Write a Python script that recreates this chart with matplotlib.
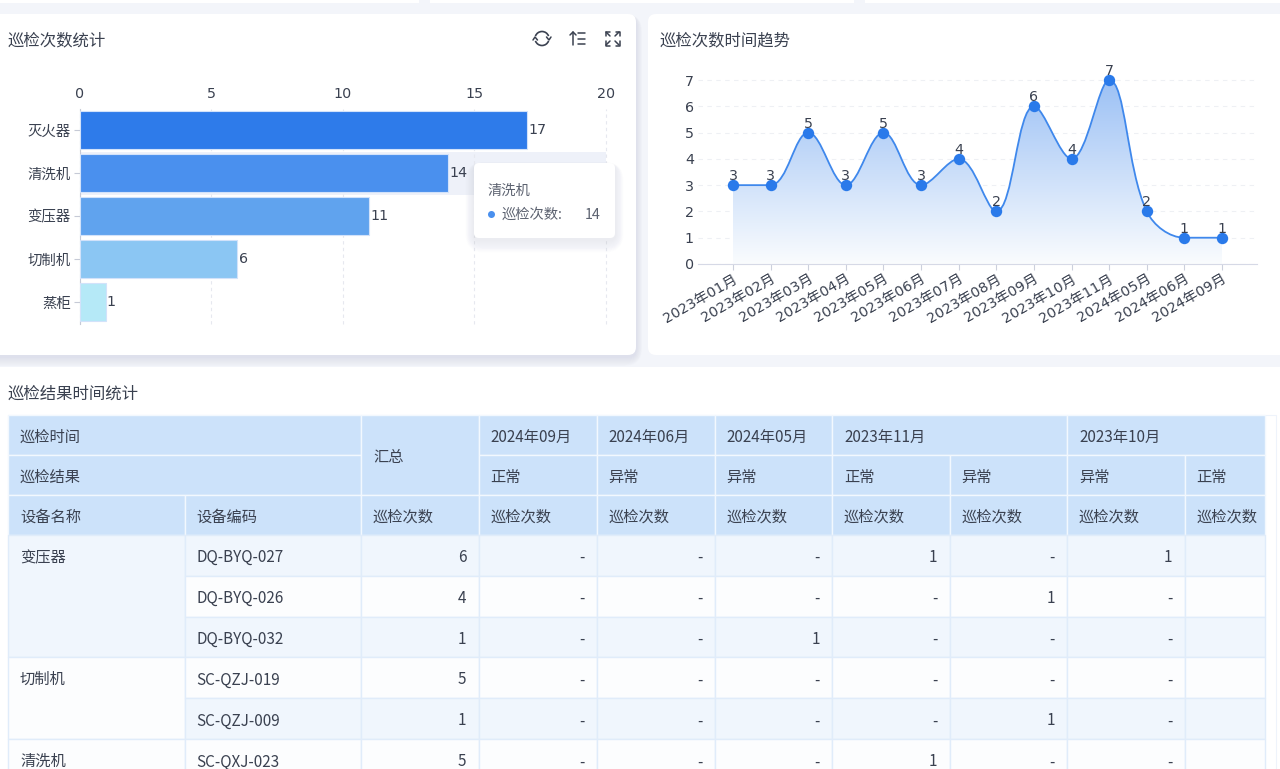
import numpy as np
import matplotlib
matplotlib.use("Agg")
import matplotlib.pyplot as plt
from matplotlib.patches import FancyBboxPatch, Rectangle, PathPatch, Arc, Circle
from matplotlib.path import Path
from matplotlib.colors import LinearSegmentedColormap

plt.rcParams['font.family'] = ['DejaVu Sans', 'Noto Sans CJK SC']
CJK = ['Noto Sans CJK SC', 'DejaVu Sans']

# Device inspection counts
devices = ['灭火器', '清洗机', '变压器', '切制机', '蒸柜']
device_counts = [17, 14, 11, 6, 1]
bar_colors = ['#2e7bea', '#4a90ee', '#60a3ee', '#8bc6f3', '#b5e9f7']
count_ticks = [0, 5, 10, 15, 20]

# Monthly inspection trend
months = ['2023年01月', '2023年02月', '2023年03月', '2023年04月', '2023年05月',
          '2023年06月', '2023年07月', '2023年08月', '2023年09月', '2023年10月',
          '2023年11月', '2024年05月', '2024年06月', '2024年09月']
month_counts = [3, 3, 5, 3, 5, 3, 4, 2, 6, 4, 7, 2, 1, 1]

# Pivot table contents
periods = [('2024年09月', 1), ('2024年06月', 1), ('2024年05月', 1), ('2023年11月', 2), ('2023年10月', 2)]
results = ['正常', '异常', '异常', '正常', '异常', '异常', '正常']
groups = [('变压器', 3), ('切制机', 2), ('清洗机', 1)]
codes = ['DQ-BYQ-027', 'DQ-BYQ-026', 'DQ-BYQ-032', 'SC-QZJ-019', 'SC-QZJ-009', 'SC-QXJ-023']
totals = [6, 4, 1, 5, 1, 5]
cells = [['-', '-', '-', '1', '-', '1', ''],
         ['-', '-', '-', '-', '1', '-', ''],
         ['-', '-', '1', '-', '-', '-', ''],
         ['-', '-', '-', '-', '-', '-', ''],
         ['-', '-', '-', '-', '1', '-', ''],
         ['-', '-', '-', '1', '-', '-', '']]

TEXT = '#3a4150'
BG = '#f3f5fa'
W, H = 1280, 769

fig = plt.figure(figsize=(12.8, 7.69), dpi=100, facecolor=BG)
canvas = fig.add_axes([0, 0, 1, 1], zorder=0)
canvas.set_xlim(0, W)
canvas.set_ylim(H, 0)
canvas.axis('off')


def card(ax, x0, y0, x1, y1, radius=8, color='white', shadow=False, z=1, shade=0.05, spread=10):
    if shadow:
        for i in range(spread, 0, -1):
            ax.add_patch(FancyBboxPatch((x0 - i * 0.6, y0 + 2 - i * 0.2), x1 - x0 + i * 1.2, y1 - y0 + i * 1.1,
                                        boxstyle=f'round,pad=0,rounding_size={radius + i}',
                                        fc='#c9cce0', ec='none', alpha=shade, zorder=z))
    ax.add_patch(FancyBboxPatch((x0, y0), x1 - x0, y1 - y0, boxstyle=f'round,pad=0,rounding_size={radius}',
                                fc=color, ec='none', zorder=z + 0.1))


# Page background pieces and dashboard cards
for x0, x1 in [(-5, 419), (430, 854), (865, 1285)]:
    canvas.add_patch(Rectangle((x0, -5), x1 - x0, 8, fc='white', ec='none', zorder=1))
card(canvas, -12, 14, 636, 355, shadow=True)
card(canvas, 648, 14, 1292, 355)
canvas.add_patch(Rectangle((0, 367), W, H - 367, fc='white', ec='none', zorder=1))

for x, y, t in [(8, 40.5, '巡检次数统计'), (660, 40.5, '巡检次数时间趋势'), (8, 394, '巡检结果时间统计')]:
    canvas.text(x, y, t, fontsize=11.8, color=TEXT, va='center', ha='left', zorder=3, family=CJK)

# Toolbar icons: refresh, sort, fullscreen
icon = dict(color='#3a4150', lw=1.1, zorder=3, solid_capstyle='round')
canvas.add_patch(Arc((542, 38.5), 14, 14, theta1=200, theta2=340, ec='#3a4150', lw=1.2, zorder=3))
canvas.add_patch(Arc((542, 38.5), 14, 14, theta1=20, theta2=160, ec='#3a4150', lw=1.2, zorder=3))
canvas.plot([546.5, 549, 551], [37, 40, 37], **icon)
canvas.plot([533, 535, 537.5], [40, 37, 40], **icon)
canvas.plot([573, 573], [32, 45], **icon)
canvas.plot([570, 573, 576], [35, 32, 35], **icon)
for yy, x1 in [(33, 585), (38.5, 585), (44, 585)]:
    canvas.plot([577.5, x1], [yy, yy], **icon)
for sx, sy in [(1, 1), (-1, 1), (1, -1), (-1, -1)]:
    cx, cy = 612.5, 38.5
    canvas.plot([cx + sx * 7, cx + sx * 7, cx + sx * 3], [cy + sy * 2.5, cy + sy * 7, cy + sy * 7], **icon)
    canvas.plot([cx + sx * 6.5, cx + sx * 2.5], [cy + sy * 6.5, cy + sy * 2.5], **icon)

# Horizontal bar chart
bar_ax = fig.add_axes([79.5 / W, 1 - 323.5 / H, (606 - 79.5) / W, (323.5 - 108.5) / H], zorder=2)
bar_ax.patch.set_alpha(0)
bar_ax.set_xlim(0, 20)
bar_ax.set_ylim(len(devices) - 0.5, -0.5)
bar_ax.axhspan(0.5, 1.5, xmin=0, xmax=1, fc='#eef1f9', ec='none', zorder=0)
bar_ax.barh(range(len(devices)), device_counts, height=0.9, color=bar_colors,
            edgecolor='#d2e2fa', linewidth=0.8, zorder=3)
for i, v in enumerate(device_counts):
    bar_ax.text(v + 0.04, i, str(v), va='center', ha='left', fontsize=10.3, color=TEXT, zorder=4)
bar_ax.set_xticks(count_ticks)
bar_ax.xaxis.tick_top()
bar_ax.tick_params(axis='x', length=0, pad=5.5, labelsize=10.3, labelcolor=TEXT)
bar_ax.set_yticks(range(len(devices)), devices, family=CJK)
bar_ax.tick_params(axis='y', length=4, width=0.8, color='#c6cad6', pad=2.3, labelsize=10.4, labelcolor=TEXT)
bar_ax.grid(axis='x', color='#e6e8ef', linestyle=(0, (3, 3)), linewidth=0.8, zorder=1)
for gl in bar_ax.get_xgridlines():
    gl.set_clip_on(False)
bar_ax.set_axisbelow(True)
for side in ['top', 'right', 'bottom']:
    bar_ax.spines[side].set_visible(False)
bar_ax.spines['left'].set_color('#c6cad6')

# Tooltip over the bar chart
overlay = fig.add_axes([0, 0, 1, 1], zorder=4)
overlay.set_xlim(0, W)
overlay.set_ylim(H, 0)
overlay.axis('off')
overlay.patch.set_alpha(0)
card(overlay, 474, 163, 615, 238, radius=5, shadow=True, shade=0.025, spread=14)
overlay.text(488, 191, '清洗机', fontsize=10.3, color='#5c6270', va='center', ha='left', zorder=5, family=CJK)
overlay.add_patch(Circle((491.5, 214.5), 3.5, fc='#4a90ee', ec='none', zorder=5))
overlay.text(502, 215, '巡检次数:', fontsize=10.3, color='#5c6270', va='center', ha='left', zorder=5, family=CJK)
overlay.text(601, 215, '14', fontsize=10.3, color='#5c6270', va='center', ha='right', zorder=5, family=CJK)

# Area trend chart
x_step = (1222 - 733) / 13
y_unit = (264 - 80) / 7
line_ax = fig.add_axes([698 / W, 1 - 264 / H, (1257 - 698) / W, (264 - 70) / H], zorder=2)
line_ax.patch.set_alpha(0)


def smooth_path(xs, ys, sx, sy, smooth=0.36):
    """Bezier segments through the points, with control points clamped to each segment's range."""
    pts = np.column_stack([np.asarray(xs, float) * sx, np.asarray(ys, float) * sy])
    verts = [tuple(pts[0])]
    kinds = [Path.MOVETO]
    cp0 = pts[0].copy()
    for i in range(1, len(pts) - 1):
        prev, p, nxt = pts[i - 1], pts[i], pts[i + 1]
        v = nxt - prev
        len_prev = np.hypot(*(p - prev))
        len_next = np.hypot(*(nxt - p))
        ratio = len_next / (len_prev + len_next)
        c1 = p + v * smooth * ratio
        c1 = np.maximum(np.minimum(c1, np.maximum(nxt, p)), np.minimum(nxt, p))
        back = p - (c1 - p) * len_prev / len_next
        back = np.maximum(np.minimum(back, np.maximum(prev, p)), np.minimum(prev, p))
        c1 = p + (p - back) * len_next / len_prev
        verts += [tuple(cp0), tuple(back), tuple(p)]
        kinds += [Path.CURVE4] * 3
        cp0 = c1
    verts += [tuple(cp0), tuple(pts[-1]), tuple(pts[-1])]
    kinds += [Path.CURVE4] * 3
    return [(a / sx, b / sy) for a, b in verts], kinds


xpos = np.arange(len(months))
curve_verts, curve_codes = smooth_path(xpos, month_counts, x_step, y_unit)
line_path = Path(curve_verts, curve_codes)
area_path = Path(curve_verts + [(xpos[-1], 0), (xpos[0], 0), (xpos[0], month_counts[0])],
                 curve_codes + [Path.LINETO, Path.LINETO, Path.CLOSEPOLY])

area_cmap = LinearSegmentedColormap.from_list('area', ['#fafcfe', '#9cc1f5'])
gradient = np.linspace(1, 0, 256).reshape(-1, 1)
img = line_ax.imshow(gradient, extent=[xpos[0], xpos[-1], 0, max(month_counts)], aspect='auto',
                     cmap=area_cmap, zorder=2, origin='upper')
img.set_clip_path(PathPatch(area_path, transform=line_ax.transData))
line_ax.set_xlim(-(733 - 698) / x_step, 13 + (1257 - 1222) / x_step)
line_ax.set_ylim(0, (264 - 70) / y_unit)

line_ax.add_patch(PathPatch(line_path, fc='none', ec='#3f88ec', lw=1.3, zorder=3))
line_ax.plot(xpos, month_counts, 'o', ms=8.2, color='#2a7aea', mec='none', zorder=4, clip_on=False)
for x, v in zip(xpos, month_counts):
    line_ax.text(x, v + 0.34, str(v), ha='center', va='center', fontsize=10.3, color=TEXT, zorder=5)

line_ax.set_yticks(range(8))
line_ax.tick_params(axis='y', length=0, pad=3, labelsize=10.3, labelcolor=TEXT)
line_ax.set_xticks(xpos, months, rotation=30, ha='right', rotation_mode='anchor')
line_ax.tick_params(axis='x', length=4, width=0.8, color='#ccd0dc', pad=1.5, labelsize=10.3, labelcolor=TEXT)
line_ax.grid(axis='y', color='#eef0f4', linestyle=(0, (4, 4)), linewidth=0.8, zorder=1)
line_ax.set_axisbelow(True)
for side in ['top', 'right', 'left']:
    line_ax.spines[side].set_visible(False)
line_ax.spines['bottom'].set_color('#d6d9e6')

# Pivot table, laid out on the page canvas
col_x = [8, 184.5, 361, 478.5, 596.5, 714.5, 832, 949.5, 1067, 1184.5, 1265]
row_y = [415, 455, 495, 535, 575.7, 616.5, 657, 698, 739, 780]
HEAD = '#cce2fa'
HEAD_LINE = '#f2f8fe'
BODY_LINE = '#e0ecfa'
STRIPE = '#f0f6fd'
PLAIN = '#fcfdfe'
FS = 11


def cell(x0, x1, y0, y1, fc, ec, text='', align='left', va_y=None):
    canvas.add_patch(Rectangle((x0, y0), x1 - x0, y1 - y0, fc=fc, ec=ec, lw=1.0, zorder=2))
    if text:
        yy = ((y0 + y1) / 2 if va_y is None else va_y) + 2.3
        if align == 'left':
            canvas.text(x0 + 12, yy, text, fontsize=FS, color=TEXT, va='center', ha='left', zorder=3, family=CJK)
        else:
            canvas.text(x1 - 12, yy, text, fontsize=FS, color=TEXT, va='center', ha='right', zorder=3, family=CJK)


canvas.add_patch(Rectangle((8, 415), 1268, H - 415 + 5, fc='white', ec='#eef3fb', lw=0.8, zorder=1.5))
# Header rows
cell(col_x[0], col_x[2], row_y[0], row_y[1], HEAD, HEAD_LINE, '巡检时间')
cell(col_x[0], col_x[2], row_y[1], row_y[2], HEAD, HEAD_LINE, '巡检结果')
cell(col_x[2], col_x[3], row_y[0], row_y[2], HEAD, HEAD_LINE, '汇总')
cell(col_x[0], col_x[1], row_y[2], row_y[3], HEAD, HEAD_LINE, '设备名称')
cell(col_x[1], col_x[2], row_y[2], row_y[3], HEAD, HEAD_LINE, '设备编码')
cell(col_x[2], col_x[3], row_y[2], row_y[3], HEAD, HEAD_LINE, '巡检次数')
c = 3
for label, span in periods:
    cell(col_x[c], col_x[c + span], row_y[0], row_y[1], HEAD, HEAD_LINE, label)
    c += span
for j, res in enumerate(results):
    cell(col_x[3 + j], col_x[4 + j], row_y[1], row_y[2], HEAD, HEAD_LINE, res)
    cell(col_x[3 + j], col_x[4 + j], row_y[2], row_y[3], HEAD, HEAD_LINE, '巡检次数')

# Body rows, merged device-name cells and striped value cells
r = 0
for g, (name, span) in enumerate(groups):
    cell(col_x[0], col_x[1], row_y[3 + r], row_y[3 + r + span], STRIPE if g == 0 else PLAIN, BODY_LINE,
         name, va_y=(row_y[3 + r] + row_y[4 + r]) / 2)
    r += span
for i, code in enumerate(codes):
    fc = STRIPE if i % 2 == 0 else PLAIN
    y0, y1 = row_y[3 + i], row_y[4 + i]
    cell(col_x[1], col_x[2], y0, y1, fc, BODY_LINE, code)
    cell(col_x[2], col_x[3], y0, y1, fc, BODY_LINE, str(totals[i]), align='right')
    for j, val in enumerate(cells[i]):
        cell(col_x[3 + j], col_x[4 + j], y0, y1, fc, BODY_LINE, val, align='right')

fig.savefig('out.png', dpi=100, facecolor=BG)
